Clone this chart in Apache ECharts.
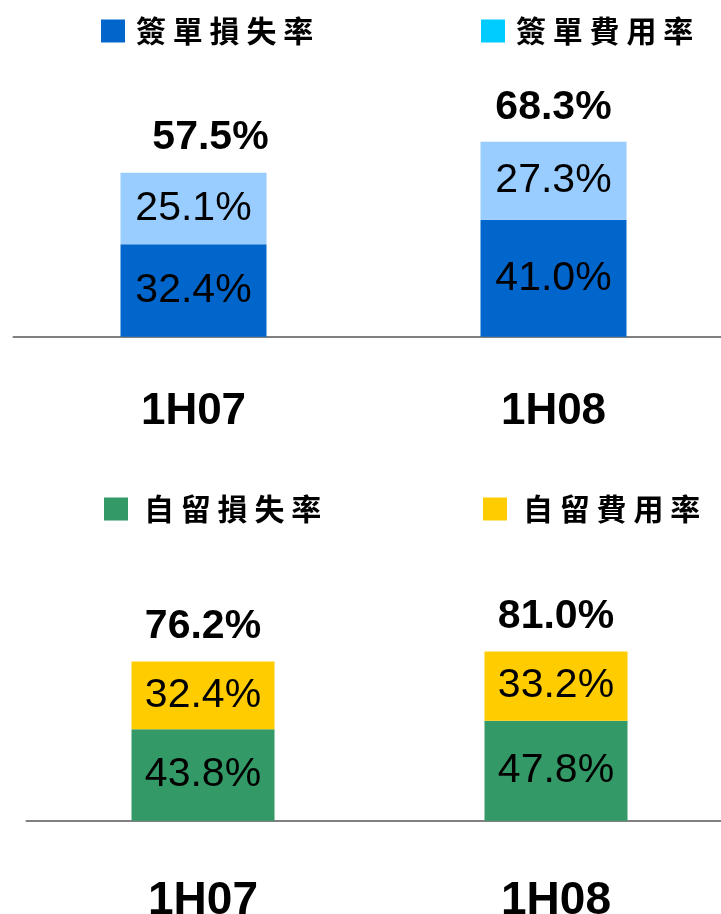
<!DOCTYPE html>
<html>
<head>
<meta charset="utf-8">
<script src="https://cdn.jsdelivr.net/npm/echarts@6/dist/echarts.min.js"></script>
<style>
html,body{margin:0;padding:0;background:#fff;}
#chart{width:721px;height:914px;}
</style>
</head>
<body>
<div id="chart"></div>
<script>
const categories = ['1H07', '1H08'];
const grossLossName = '簽單損失率';
const grossExpName = '簽單費用率';
const netLossName = '自留損失率';
const netExpName = '自留費用率';
const grossLoss = [32.4, 41.0];
const grossExpense = [25.1, 27.3];
const grossTotal = [57.5, 68.3];
const netLoss = [43.8, 47.8];
const netExpense = [32.4, 33.2];
const netTotal = [76.2, 81.0];

const chart = echarts.init(document.getElementById('chart'), null, {renderer: 'canvas'});
const numFont = 'Liberation Sans, Arial, sans-serif';
const cjkFont = '"Noto Sans CJK TC", "Noto Sans CJK SC", sans-serif';
const fmt = p => (typeof p.value === 'number' ? p.value : p.value.value).toFixed(1) + '%';

function legend(name, left, top, color, gapPad) {
  return {
    left: left, top: top, padding: 0,
    itemWidth: 24, itemHeight: 23, icon: 'rect',
    selectedMode: false,
    data: [{name: name, itemStyle: {color: color}}],
    formatter: n => n.split('').join(' '),
    textStyle: {fontFamily: cjkFont, fontSize: 30, fontWeight: 'bold', color: '#000', padding: [2, 0, 0, gapPad]}
  };
}

function xAx(gi, fs, margin) {
  return {
    type: 'category', gridIndex: gi, data: categories,
    axisTick: {show: false},
    axisLine: {lineStyle: {color: '#808080', width: 2}},
    axisLabel: {fontFamily: numFont, fontSize: fs, fontWeight: 'bold', color: '#000', margin: margin}
  };
}

const inLabel = {show: true, position: 'inside', formatter: fmt, fontFamily: numFont, fontSize: 41, color: '#000'};
const topLabel = {show: true, position: 'top', distance: 14, formatter: fmt, fontFamily: numFont, fontSize: 41, fontWeight: 'bold', color: '#000'};

chart.setOption({
  animation: false,
  backgroundColor: '#fff',
  legend: [
    legend(grossLossName, 101, 16, '#0066CC', 6),
    legend(grossExpName, 481, 16, '#00CCFF', 6),
    legend(netLossName, 104, 494, '#339966', 11),
    legend(netExpName, 483, 494, '#FFCC00', 11)
  ],
  grid: [
    {left: 13.5, width: 720, top: 51.4, height: 285.3, outerBoundsMode: 'none', containLabel: false},
    {left: 26.5, width: 706, top: 611.7, height: 209, outerBoundsMode: 'none', containLabel: false}
  ],
  xAxis: [xAx(0, 44, 53), xAx(1, 46, 58)],
  yAxis: [
    {type: 'value', gridIndex: 0, min: 0, max: 100, show: false},
    {type: 'value', gridIndex: 1, min: 0, max: 100, show: false}
  ],
  series: [
    {name: grossLossName, type: 'bar', stack: 'g', xAxisIndex: 0, yAxisIndex: 0, barWidth: 146,
     itemStyle: {color: '#0066CC'}, label: inLabel, data: grossLoss},
    {name: grossExpName, type: 'bar', stack: 'g', xAxisIndex: 0, yAxisIndex: 0, barWidth: 146,
     itemStyle: {color: '#99CCFF'}, label: inLabel, data: grossExpense},
    {name: 'grossTotal', type: 'scatter', xAxisIndex: 0, yAxisIndex: 0, symbolSize: 0, silent: true,
     itemStyle: {opacity: 1}, label: topLabel,
     data: grossTotal.map((v, i) => i === 0 ? {value: v, label: {offset: [17, 0]}} : v)},
    {name: netLossName, type: 'bar', stack: 'n', xAxisIndex: 1, yAxisIndex: 1, barWidth: 143,
     itemStyle: {color: '#339966'}, label: inLabel, data: netLoss},
    {name: netExpName, type: 'bar', stack: 'n', xAxisIndex: 1, yAxisIndex: 1, barWidth: 143,
     itemStyle: {color: '#FFCC00'}, label: inLabel, data: netExpense},
    {name: 'netTotal', type: 'scatter', xAxisIndex: 1, yAxisIndex: 1, symbolSize: 0, silent: true,
     itemStyle: {opacity: 1}, label: topLabel, data: netTotal}
  ]
});
</script>
</body>
</html>
